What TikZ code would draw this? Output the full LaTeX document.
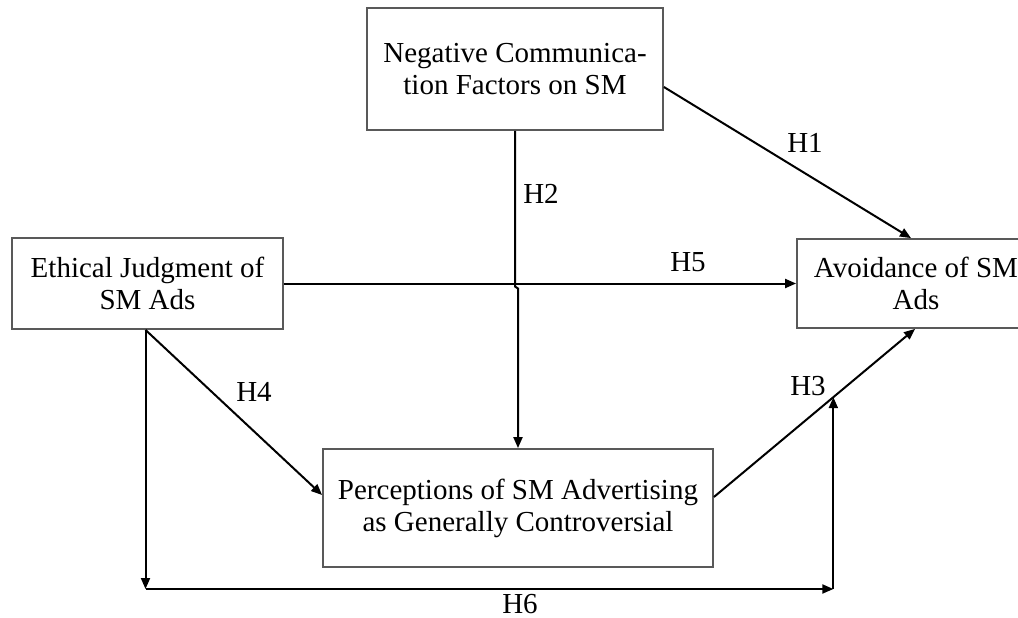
\documentclass[tikz,border=0pt]{standalone}
\usepackage{fontspec}
\setmainfont{Liberation Serif}
\usetikzlibrary{arrows.meta,calc}
\begin{document}
\begin{tikzpicture}[x=1pt,y=-1pt,
  box/.style={draw=black!65,line width=1.8pt,rectangle,align=center,inner sep=0pt,
    font=\fontsize{29}{32}\selectfont},
  conn/.style={line width=2pt,black,-{Triangle[length=11pt,width=9pt]}},
  lab/.style={font=\fontsize{29}{32}\selectfont,inner sep=0pt}]
\useasboundingbox (0,0) rectangle (1018,618);
\node[box,minimum width=296pt,minimum height=122pt] (neg) at (515,69) {Negative Communica-\\tion Factors on SM};
\node[box,minimum width=271pt,minimum height=91pt] (eth) at (147.5,283.5) {Ethical Judgment of\\SM Ads};
\node[box,minimum width=238pt,minimum height=89pt] (avo) at (916,283.5) {Avoidance of SM\\Ads};
\node[box,minimum width=390pt,minimum height=118pt] (per) at (518,508) {Perceptions of SM Advertising\\as Generally Controversial};
% H1
\draw[conn] ([yshift=-18pt]neg.east) -- ([xshift=-5pt]avo.north);
% H2
\coordinate (j1) at (neg.south |- eth.east);
\draw[conn] (neg.south) -- ([yshift=-3pt]j1) -- ([xshift=3pt,yshift=-5pt]j1) -- (per.north);
% H5
\draw[conn] (eth.east) -- (avo.west);
% H3
\coordinate (h3s) at ([yshift=11pt]per.east);
\coordinate (h3e) at ([xshift=-1pt]avo.south);
\draw[conn] (h3s) -- (h3e);
\path (h3s) -- (h3e) coordinate[pos=0.594] (h3p);
% H4
\coordinate (es) at ([xshift=-2pt]eth.south);
\draw[conn] (es) -- ([yshift=13pt]per.west);
% H6
\coordinate (c1) at (es |- 0,589);
\coordinate (c2) at (h3p |- 0,589);
\draw[conn] (es) -- (c1);
\draw[conn] (c1) -- (c2);
\draw[conn] (c2) -- (h3p);
% labels
\node[lab] (l1) at (805,143) {H1};
\node[lab] (l2) at (541,194) {H2};
\node[lab] (l5) at (688,262) {H5};
\node[lab] (l3) at (808,386) {H3};
\node[lab] (l4) at (254,392) {H4};
\node[lab] (l6) at (520,604) {H6};
\end{tikzpicture}
\end{document}
